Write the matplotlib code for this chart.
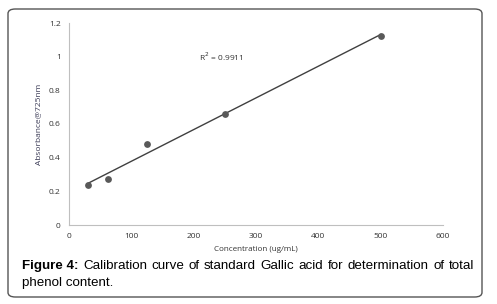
import matplotlib
matplotlib.use('Agg')
import matplotlib.pyplot as plt
from matplotlib.patches import FancyBboxPatch
import numpy as np

# gallic acid standards
conc = [31.25, 62.5, 125, 250, 500]
absorb = [0.237, 0.273, 0.482, 0.660, 1.123]
xticks = [0, 100, 200, 300, 400, 500, 600]
yticks = [0, 0.2, 0.4, 0.6, 0.8, 1, 1.2]
ytick_labels = ['0', '0.2', '0.4', '0.6', '0.8', '1', '1.2']
cap_line1 = 'Calibration curve of standard Gallic acid for determination of total'
cap_line2 = 'phenol content.'

plt.rcParams['font.family'] = ['Open Sans', 'DejaVu Sans']

W, H = 497, 304
fig = plt.figure(figsize=(W / 100, H / 100), dpi=100)
ax = fig.add_axes([69 / W, 1 - 225 / H, 374 / W, 202 / H])

# linear trendline
slope, icpt = np.polyfit(conc, absorb, 1)
xs = np.array([conc[0], conc[-1]])
ax.plot(xs, slope * xs + icpt, color='#404040', lw=1.0, zorder=2)
ax.scatter(conc, absorb, s=24, color='#595959', zorder=3, linewidths=0)

ax.text(208, 1.0, 'R$^2$ = 0.9911', fontsize=6, color='#333333', va='center')

ax.set_xlim(0, 600)
ax.set_ylim(0, 1.2)
ax.set_xticks(xticks)
ax.set_yticks(yticks)
ax.set_yticklabels(ytick_labels)
ax.tick_params(length=0, labelsize=6, colors='#333333', pad=6)
for s in ['top', 'right']:
    ax.spines[s].set_visible(False)
for s in ['left', 'bottom']:
    ax.spines[s].set_color('#bfbfbf')
    ax.spines[s].set_linewidth(0.8)

ax.set_xlabel('Concentration (ug/mL)', fontsize=5.8, color='#333333', labelpad=4)
ax.set_ylabel('Absorbance@725nm', fontsize=6, color='#3a3a55', labelpad=5)

# caption, first line justified between x=22 and x=474
fs = 9.6
r = fig.canvas.get_renderer()
y1 = 1 - 269 / H
lead = fig.text(22 / W, y1, 'Figure 4:', fontsize=fs, fontweight='bold',
                family='Liberation Sans', va='baseline')
words = [lead]
for w in cap_line1.split():
    words.append(fig.text(0, y1, w, fontsize=fs, family='Liberation Sans', va='baseline'))
widths = [t.get_window_extent(r).width for t in words]
gap = (474 - 22 - sum(widths)) / (len(words) - 1)
x = 22
for t, wd in zip(words, widths):
    t.set_x(x / W)
    x += wd + gap
fig.text(22 / W, 1 - 286 / H, cap_line2, fontsize=fs,
         family='Liberation Sans', va='baseline')

frame = FancyBboxPatch((8 / W, 1 - 297 / H), 474 / W, 288 / H,
                       boxstyle='round,pad=0,rounding_size=0.015',
                       transform=fig.transFigure, fill=False,
                       edgecolor='#555555', lw=1.0)
fig.patches.append(frame)

fig.savefig('out.png', dpi=100)
